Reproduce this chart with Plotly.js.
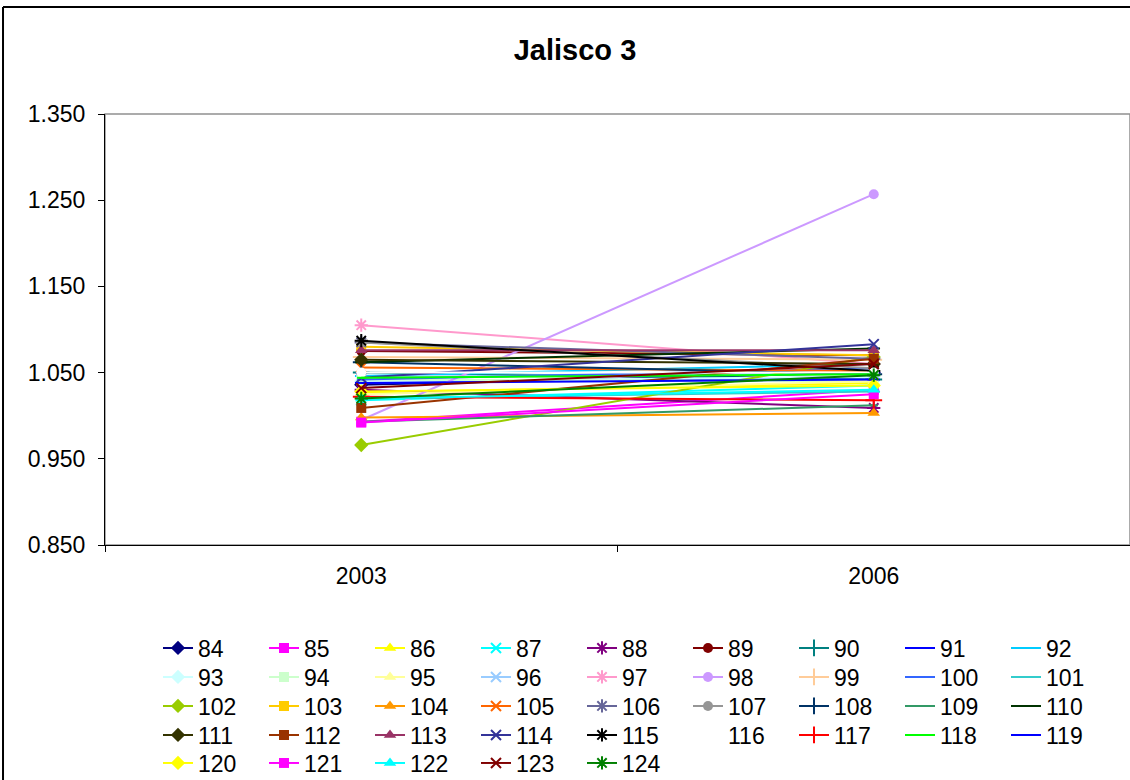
<!DOCTYPE html>
<html>
<head>
<meta charset="utf-8">
<script src="https://cdn.plot.ly/plotly-3.0.1.min.js"></script>
<style>
html,body{margin:0;padding:0;background:#fff;}
#chart{width:1130px;height:780px;}
</style>
</head>
<body>
<div id="chart"></div>
<script>
// ---- data ----
const years = ['2003', '2006'];
const seriesNames = ['84','85','86','87','88','89','90','91','92','93','94','95','96','97','98','99','100','101','102','103','104','105','106','107','108','109','110','111','112','113','114','115','116','117','118','119','120','121','122','123','124'];
const values2003 = [1.036,0.993,1.027,1.018,1.030,1.075,1.050,1.038,1.046,1.040,1.042,1.025,1.045,1.105,0.995,1.068,1.042,1.020,0.966,1.080,0.998,1.056,1.085,1.085,1.062,0.993,1.062,1.065,1.009,1.076,1.044,1.087,1.050,1.022,1.044,1.038,1.028,0.992,1.020,1.032,1.020];
const values2006 = [1.050,1.030,1.038,1.035,1.009,1.070,1.042,1.045,1.060,1.045,1.040,1.040,1.050,1.060,1.257,1.065,1.055,1.028,1.068,1.070,1.003,1.052,1.066,1.055,1.048,1.012,1.078,1.060,1.066,1.076,1.083,1.052,1.050,1.018,1.048,1.042,1.035,1.025,1.030,1.060,1.047];
const yTicks = [0.85, 0.95, 1.05, 1.15, 1.25, 1.35];

// ---- styles ----
const colors = ['#000080','#FF00FF','#FFFF00','#00FFFF','#800080','#800000','#008080','#0000FF','#00CCFF',
  '#CCFFFF','#CCFFCC','#FFFF99','#99CCFF','#FF99CC','#CC99FF','#FFCC99','#3366FF','#33CCCC',
  '#99CC00','#FFCC00','#FF9900','#FF6600','#666699','#969696','#003366','#339966','#003300',
  '#333300','#993300','#993366','#333399','#000000','#FFFFFF','#FF0000','#00FF00','#0000FF',
  '#FFFF00','#FF00FF','#00FFFF','#800000','#008000'];
const symbols = ['diamond','square','triangle-up','x-thin-open','asterisk-open','circle','cross-thin-open','line-ew-open','line-ew-open'];
const symSize = [11,10,11,10,11,10,12,6,9];
const rowCenters = [648, 677, 706, 735, 763];
const H = 780;

const traces = seriesNames.map((n, i) => {
  const k = i % 9;
  const row = Math.floor(i / 9);
  return {
    type: 'scatter', mode: 'lines+markers', name: n,
    x: years, y: [values2003[i], values2006[i]],
    line: {color: colors[i], width: 2},
    marker: {symbol: symbols[k], size: symSize[k], color: colors[i],
             line: {color: colors[i], width: (k===3||k===4||k===6||k===7||k===8) ? 2 : 0}},
    cliponaxis: false,
    legend: row === 0 ? 'legend' : 'legend' + (row + 1)
  };
});

function legendRow(r) {
  return {orientation: 'h', xref: 'container', yref: 'container', x: 158 / 1130, xanchor: 'left',
          y: 1 - rowCenters[r] / H, yanchor: 'middle', entrywidth: 61, entrywidthmode: 'pixels',
          font: {size: 23, color: '#000'}, itemwidth: 30, traceorder: 'normal',
          bgcolor: 'rgba(0,0,0,0)', borderwidth: 0};
}

const layout = {
  width: 1130, height: 780,
  paper_bgcolor: '#fff', plot_bgcolor: '#fff',
  margin: {l: 105, r: 0, t: 114, b: 235, autoexpand: false},
  font: {family: 'Liberation Sans, Arial, sans-serif', color: '#000', size: 23},
  title: {text: '<b>Jalisco 3</b>', x: 575 / 1130, xref: 'container', y: 1 - 50 / H, yref: 'container',
          xanchor: 'center', yanchor: 'middle', font: {size: 29, color: '#000'}},
  xaxis: {type: 'category', range: [-0.5, 1.5], tickson: 'boundaries', ticks: 'outside', ticklen: 6,
          tickcolor: '#000', showline: true, linecolor: '#000', linewidth: 1, showgrid: false,
          zeroline: false, ticklabelstandoff: 10, tickfont: {size: 23}},
  yaxis: {range: [0.85, 1.35], tickvals: yTicks, tickformat: '.3f', ticks: 'outside', ticklen: 6,
          tickcolor: '#000', showline: true, linecolor: '#000', linewidth: 1, showgrid: false,
          zeroline: false, ticklabelstandoff: 8, tickfont: {size: 23}},
  showlegend: true,
  legend: legendRow(0), legend2: legendRow(1), legend3: legendRow(2), legend4: legendRow(3), legend5: legendRow(4),
  shapes: [
    {type: 'rect', xref: 'paper', yref: 'paper', x0: 0, x1: 1, y0: 0, y1: 1,
     line: {color: '#909090', width: 1.5}, layer: 'below'},
    {type: 'line', xref: 'paper', yref: 'paper', x0: -0.0995, x1: -0.0995, y0: -1.0, y1: 1.248,
     line: {color: '#000', width: 2}},
    {type: 'line', xref: 'paper', yref: 'paper', x0: -0.0995, x1: 1.05, y0: 1.248, y1: 1.248,
     line: {color: '#000', width: 2}}
  ]
};

Plotly.newPlot('chart', traces, layout, {displayModeBar: false, staticPlot: true});
</script>
</body>
</html>
